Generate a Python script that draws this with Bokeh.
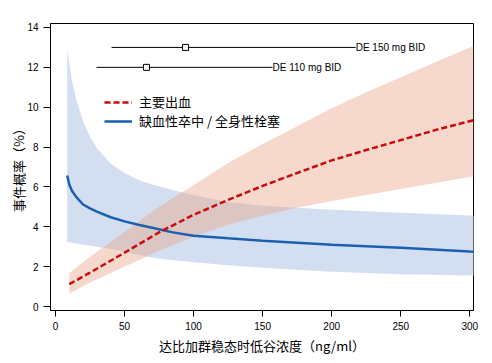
from bokeh.plotting import figure
from bokeh.models import Range1d, Legend, LegendItem, ColumnDataSource, FixedTicker
from bokeh.core.properties import value
from bokeh.embed import file_html
from bokeh.resources import INLINE

# ---- data ----
bleed_x = [10, 25, 50, 75, 100, 125, 150, 175, 200, 225, 250, 275, 300, 303]
bleed_mid = [1.12, 1.7, 2.7, 3.72, 4.6, 5.35, 6.05, 6.7, 7.33, 7.85, 8.35, 8.85, 9.3, 9.35]
bleed_hi = [1.68, 2.5, 3.75, 5.0, 6.1, 7.2, 8.15, 9.05, 9.95, 10.75, 11.5, 12.25, 13.0, 13.08]
bleed_lo = [0.64, 1.2, 2.0, 2.8, 3.5, 4.1, 4.55, 4.95, 5.3, 5.6, 5.9, 6.2, 6.5, 6.53]

isch_x = [8.5, 10, 12, 15, 20, 25, 30, 40, 50, 60, 70, 85, 100, 125, 150, 175, 200, 250, 300, 303]
isch_mid = [6.57, 6.12, 5.8, 5.5, 5.12, 4.92, 4.76, 4.48, 4.27, 4.1, 3.95, 3.72, 3.55, 3.42, 3.3, 3.2, 3.1, 2.95, 2.76, 2.75]
isch_hi = [12.9, 12.2, 11.3, 10.4, 9.3, 8.5, 7.95, 7.16, 6.7, 6.35, 6.12, 5.85, 5.58, 5.25, 5.05, 4.95, 4.85, 4.7, 4.57, 4.56]
isch_lo = [3.23, 3.22, 3.2, 3.16, 3.1, 3.05, 3.0, 2.88, 2.75, 2.6, 2.45, 2.32, 2.22, 2.07, 1.95, 1.85, 1.75, 1.62, 1.56, 1.55]

dose_labels = ["DE 150 mg BID", "DE 110 mg BID"]
dose_lo = [40.6, 29.7]
dose_med = [94.2, 65.9]
dose_hi = [217.4, 157.2]
dose_y = [13.0, 12.0]

x_ticks = [0, 50, 100, 150, 200, 250, 300]
y_ticks = [0, 2, 4, 6, 8, 10, 12, 14]

legend_labels = ["主要出血", "缺血性卒中 / 全身性栓塞"]
x_title = "达比加群稳态时低谷浓度（ng/ml）"
y_title = "事件概率（%）"

# ---- figure ----
CJK = "Noto Sans CJK SC"
LAT = "Liberation Sans"

p = figure(width=492, height=363, output_backend="svg", toolbar_location=None,
           x_range=Range1d(-3.6, 302.7), y_range=Range1d(-0.2, 14.2),
           min_border_left=50, min_border_right=19, min_border_top=23, min_border_bottom=53)
p.background_fill_color = "white"
p.border_fill_color = "white"
p.outline_line_color = "black"
p.outline_line_width = 1
p.grid.visible = False

RED = "#cc0a0a"
BLUE = "#1c5fae"

p.varea(x=isch_x, y1=isch_lo, y2=isch_hi, fill_color="#d3dff1", fill_alpha=1.0)
p.varea(x=bleed_x, y1=bleed_lo, y2=bleed_hi, fill_color="#e8a07f", fill_alpha=0.4)

r_blue = p.line(isch_x, isch_mid, line_color=BLUE, line_width=2.5)
r_red = p.line(bleed_x, bleed_mid, line_color=RED, line_width=2.5, line_dash="6 3")

dsrc = ColumnDataSource(dict(lo=dose_lo, hi=dose_hi, med=dose_med, y=dose_y, lab=dose_labels))
p.segment(x0="lo", x1="hi", y0="y", y1="y", source=dsrc, line_color="black", line_width=1)
p.scatter(x="med", y="y", source=dsrc, marker="square", size=6, fill_color="white",
          line_color="black", line_width=1)
p.text(x="hi", y="y", text="lab", source=dsrc, text_font=value(LAT), text_font_size="10px",
       text_baseline="middle", text_align="left", x_offset=0, text_color="black")

legend = Legend(items=[LegendItem(label=legend_labels[0], renderers=[r_red]),
                       LegendItem(label=legend_labels[1], renderers=[r_blue])],
                location=(54, 180), orientation="vertical")
legend.background_fill_alpha = 0
legend.border_line_alpha = 0
legend.padding = 0
legend.margin = 0
legend.spacing = -2
legend.glyph_width = 28
legend.glyph_height = 16
legend.label_height = 16
legend.label_standoff = 7
legend.label_text_font = CJK
legend.label_text_font_size = "13px"
legend.label_text_color = "black"
p.add_layout(legend, "center")

for ax in (p.xaxis, p.yaxis):
    ax.major_label_text_font = LAT
    ax.major_label_text_font_size = "10px"
    ax.major_label_text_color = "black"
    ax.axis_label_text_font = CJK
    ax.axis_label_text_font_size = "13px"
    ax.axis_label_text_font_style = "normal"
    ax.axis_label_text_color = "black"
    ax.minor_tick_line_color = None
    ax.major_tick_in = 0
    ax.axis_line_color = "black"
    ax.major_tick_line_color = "black"

p.xaxis.ticker = FixedTicker(ticks=x_ticks)
p.yaxis.ticker = FixedTicker(ticks=y_ticks)
p.xaxis.major_tick_out = 6
p.yaxis.major_tick_out = 7
p.xaxis.major_label_standoff = 5
p.yaxis.major_label_standoff = 5
p.xaxis.axis_label = x_title
p.yaxis.axis_label = y_title
p.xaxis.axis_label_standoff = 3
p.yaxis.axis_label_standoff = -4

open("out.html", "w").write(file_html(p, INLINE))
